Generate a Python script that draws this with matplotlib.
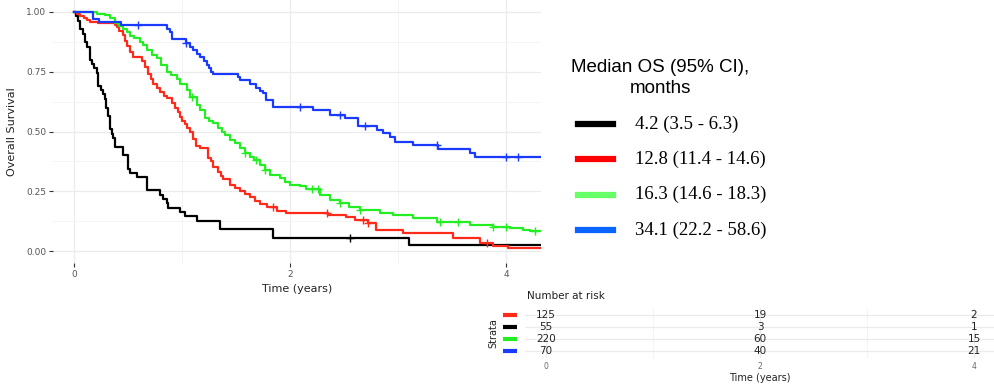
import numpy as np
import matplotlib
matplotlib.use('Agg')
import matplotlib.pyplot as plt
from matplotlib.lines import Line2D

# ---------- data ----------
black_t = [0, 0.02, 0.04, 0.06, 0.08, 0.10, 0.12, 0.15, 0.17, 0.19, 0.21, 0.225, 0.25, 0.27, 0.29,
           0.30, 0.315, 0.333, 0.35, 0.364, 0.38, 0.457, 0.503, 0.52, 0.58, 0.673, 0.796, 0.827,
           0.858, 0.873, 0.98, 1.028, 1.136, 1.35, 1.845, 3.10]
black_s = [1.0, 0.982, 0.964, 0.927, 0.909, 0.873, 0.855, 0.80, 0.782, 0.764, 0.745, 0.69, 0.673,
           0.655, 0.636, 0.60, 0.564, 0.509, 0.491, 0.473, 0.436, 0.40, 0.345, 0.327, 0.309, 0.255,
           0.236, 0.218, 0.20, 0.182, 0.164, 0.145, 0.127, 0.091, 0.055, 0.027]
black_cens = [2.56]

red_t = [0, 0.03, 0.056, 0.09, 0.117, 0.148, 0.225, 0.38, 0.395, 0.42, 0.457, 0.47, 0.488, 0.52,
         0.55, 0.627, 0.657, 0.688, 0.71, 0.735, 0.77, 0.796, 0.83, 0.858, 0.904, 0.935, 0.96, 0.98,
         1.0, 1.028, 1.05, 1.074, 1.105, 1.13, 1.167, 1.244, 1.27, 1.29, 1.336, 1.36, 1.383, 1.444,
         1.49, 1.537, 1.58, 1.63, 1.68, 1.722, 1.784, 1.877, 1.96, 2.35, 2.52, 2.60, 2.72, 2.80,
         3.05, 3.51, 3.76, 3.88, 4.02]
red_s = [1.0, 0.992, 0.984, 0.976, 0.968, 0.96, 0.952, 0.944, 0.936, 0.92, 0.904, 0.88, 0.856,
         0.832, 0.81, 0.795, 0.77, 0.74, 0.72, 0.70, 0.68, 0.665, 0.65, 0.64, 0.62, 0.60, 0.58,
         0.56, 0.545, 0.53, 0.515, 0.50, 0.47, 0.44, 0.43, 0.39, 0.375, 0.35, 0.33, 0.315, 0.30,
         0.278, 0.265, 0.25, 0.238, 0.227, 0.21, 0.195, 0.185, 0.168, 0.158, 0.15, 0.143, 0.13,
         0.117, 0.088, 0.075, 0.054, 0.033, 0.02, 0.012]
red_cens = [1.84, 2.34, 2.68, 2.72, 3.82]

green_t = [0, 0.21, 0.287, 0.33, 0.38, 0.42, 0.456, 0.49, 0.518, 0.56, 0.61, 0.64, 0.673, 0.72,
           0.766, 0.81, 0.858, 0.90, 0.95, 0.98, 1.043, 1.074, 1.136, 1.167, 1.213, 1.25, 1.29,
           1.33, 1.367, 1.40, 1.444, 1.49, 1.537, 1.58, 1.63, 1.67, 1.72, 1.77, 1.815, 1.907, 1.95,
           2.0, 2.09, 2.15, 2.28, 2.37, 2.46, 2.55, 2.65, 2.83, 2.95, 3.14, 3.36, 3.67, 3.88, 4.04,
           4.16, 4.22]
green_s = [1.0, 0.99, 0.987, 0.975, 0.953, 0.94, 0.93, 0.915, 0.90, 0.89, 0.876, 0.86, 0.84, 0.82,
           0.806, 0.78, 0.75, 0.735, 0.72, 0.70, 0.674, 0.645, 0.61, 0.59, 0.555, 0.545, 0.534,
           0.515, 0.50, 0.485, 0.464, 0.45, 0.43, 0.41, 0.395, 0.38, 0.36, 0.34, 0.318, 0.304, 0.29,
           0.276, 0.27, 0.26, 0.235, 0.215, 0.20, 0.185, 0.17, 0.16, 0.15, 0.137, 0.123, 0.109,
           0.10, 0.095, 0.088, 0.084]
green_cens = [1.09, 1.58, 1.69, 1.77, 2.2, 2.26, 2.46, 2.65, 3.39, 3.56, 3.88, 4.0, 4.27]

blue_t = [0, 0.18, 0.23, 0.44, 0.86, 0.89, 0.91, 1.04, 1.07, 1.10, 1.14, 1.17, 1.20, 1.23, 1.25,
          1.27, 1.29, 1.52, 1.54, 1.63, 1.69, 1.72, 1.75, 1.78, 1.84, 2.21, 2.37, 2.51, 2.63, 2.81,
          2.86, 2.93, 2.97, 3.14, 3.37, 3.67, 3.71]
blue_s = [1.0, 0.97, 0.96, 0.946, 0.93, 0.918, 0.886, 0.87, 0.855, 0.84, 0.825, 0.81, 0.795, 0.78,
          0.765, 0.75, 0.74, 0.728, 0.716, 0.70, 0.68, 0.67, 0.66, 0.63, 0.604, 0.59, 0.569, 0.556,
          0.523, 0.508, 0.494, 0.478, 0.457, 0.444, 0.425, 0.41, 0.392]
blue_cens = [0.59, 1.04, 2.09, 2.46, 2.69, 3.36, 4.0, 4.11]

legend_labels = ['4.2 (3.5 - 6.3)', '12.8 (11.4 - 14.6)', '16.3 (14.6 - 18.3)', '34.1 (22.2 - 58.6)']
legend_cols = ['#000000', '#ff0000', '#66ff66', '#0a64ff']

risk_times = [0, 2, 4]
risk_cols = ['#ff2a1a', '#000000', '#22ee22', '#1a3bff']   # top to bottom
risk_n = [[125, 19, 2], [55, 3, 1], [220, 60, 15], [70, 40, 21]]

T_END = 4.324
W, H = 994, 384
fig = plt.figure(figsize=(W / 100, H / 100), dpi=100)

def box(l, t, r, b):
    return [l / W, 1 - b / H, (r - l) / W, (b - t) / H]

def minimal(ax):
    for s in ax.spines.values():
        s.set_visible(False)
    ax.grid(True, which='major', color='#ebebeb', lw=0.9)
    ax.grid(True, which='minor', color='#f3f3f3', lw=0.6)
    ax.set_axisbelow(True)

# ---------- survival curves ----------
ax = fig.add_axes(box(53, 0, 541, 263))
minimal(ax)
curves = [(black_t, black_s, black_cens, '#000000'),
          (red_t, red_s, red_cens, '#ff2a1a'),
          (green_t, green_s, green_cens, '#22ee22'),
          (blue_t, blue_s, blue_cens, '#1a3bff')]
for t, s, cens, c in curves:
    tt = np.array(t + [T_END]); ss = np.array(s + [s[-1]])
    ax.step(tt, ss, where='post', color=c, lw=1.6)
    cy = ss[np.searchsorted(tt, cens, side='right') - 1]
    ax.plot(cens, cy, '+', color=c, ms=6, mew=1.0, ls='none')
ax.set_xlim(-0.194, T_END)
ax.set_ylim(-0.05, 1.05)
ax.set_xticks([0, 2, 4]); ax.set_xticks([1, 3], minor=True)
ax.set_yticks([0, 0.25, 0.5, 0.75, 1.0]); ax.set_yticks([0.125, 0.375, 0.625, 0.875], minor=True)
ax.set_yticklabels(['0.00', '0.25', '0.50', '0.75', '1.00'])
ax.tick_params(which='major', length=3, width=0.8, color='#333333', labelsize=6.5,
               labelcolor='#555555', pad=2)
ax.tick_params(which='minor', length=0)
ax.set_xlabel('Time (years)', fontsize=8, color='#222222', labelpad=4)
ax.set_ylabel('Overall Survival', fontsize=8, color='#222222')
ax.yaxis.set_label_coords(-0.074, 0.5)

# ---------- legend ----------
fig.text(660 / W, 1 - 78 / H, 'Median OS (95% CI),\nmonths', ha='center', va='center',
         fontsize=13.5, family='Liberation Sans', linespacing=1.25)
for i, (lab, c) in enumerate(zip(legend_labels, legend_cols)):
    y = 1 - (124 + i * 35.3) / H
    fig.add_artist(Line2D([578 / W, 613 / W], [y, y], color=c, lw=4.5))
    fig.text(635 / W, y, lab, ha='left', va='center', fontsize=13.5, family='Liberation Serif')

# ---------- risk table ----------
rt = fig.add_axes(box(525, 308, 994, 358))
minimal(rt)
rows = np.arange(len(risk_n), 0, -1)
for r, c, ns in zip(rows, risk_cols, risk_n):
    for x, n in zip(risk_times, ns):
        rt.text(x, r, str(n), ha='center', va='center', fontsize=7.5, color='#222222')
    rt.plot([-0.40, -0.27], [r, r], color=c, lw=3, clip_on=False, solid_capstyle='butt')
rt.set_xlim(-0.196, 4.187)
rt.set_ylim(0.417, 4.583)
rt.set_xticks([0, 2, 4]); rt.set_xticks([1, 3], minor=True)
rt.set_yticks(rows)
rt.set_yticklabels([])
rt.tick_params(which='both', length=0, labelsize=5.5, labelcolor='#666666', pad=3)
rt.set_xlabel('Time (years)', fontsize=7, color='#222222', labelpad=1)
fig.text(527 / W, 1 - 296 / H, 'Number at risk', ha='left', va='center', fontsize=7.5,
         color='#222222')
fig.text(493 / W, 1 - 333 / H, 'Strata', ha='center', va='center', rotation=90, fontsize=7,
         color='#222222')

fig.savefig('out.png', dpi=100)
